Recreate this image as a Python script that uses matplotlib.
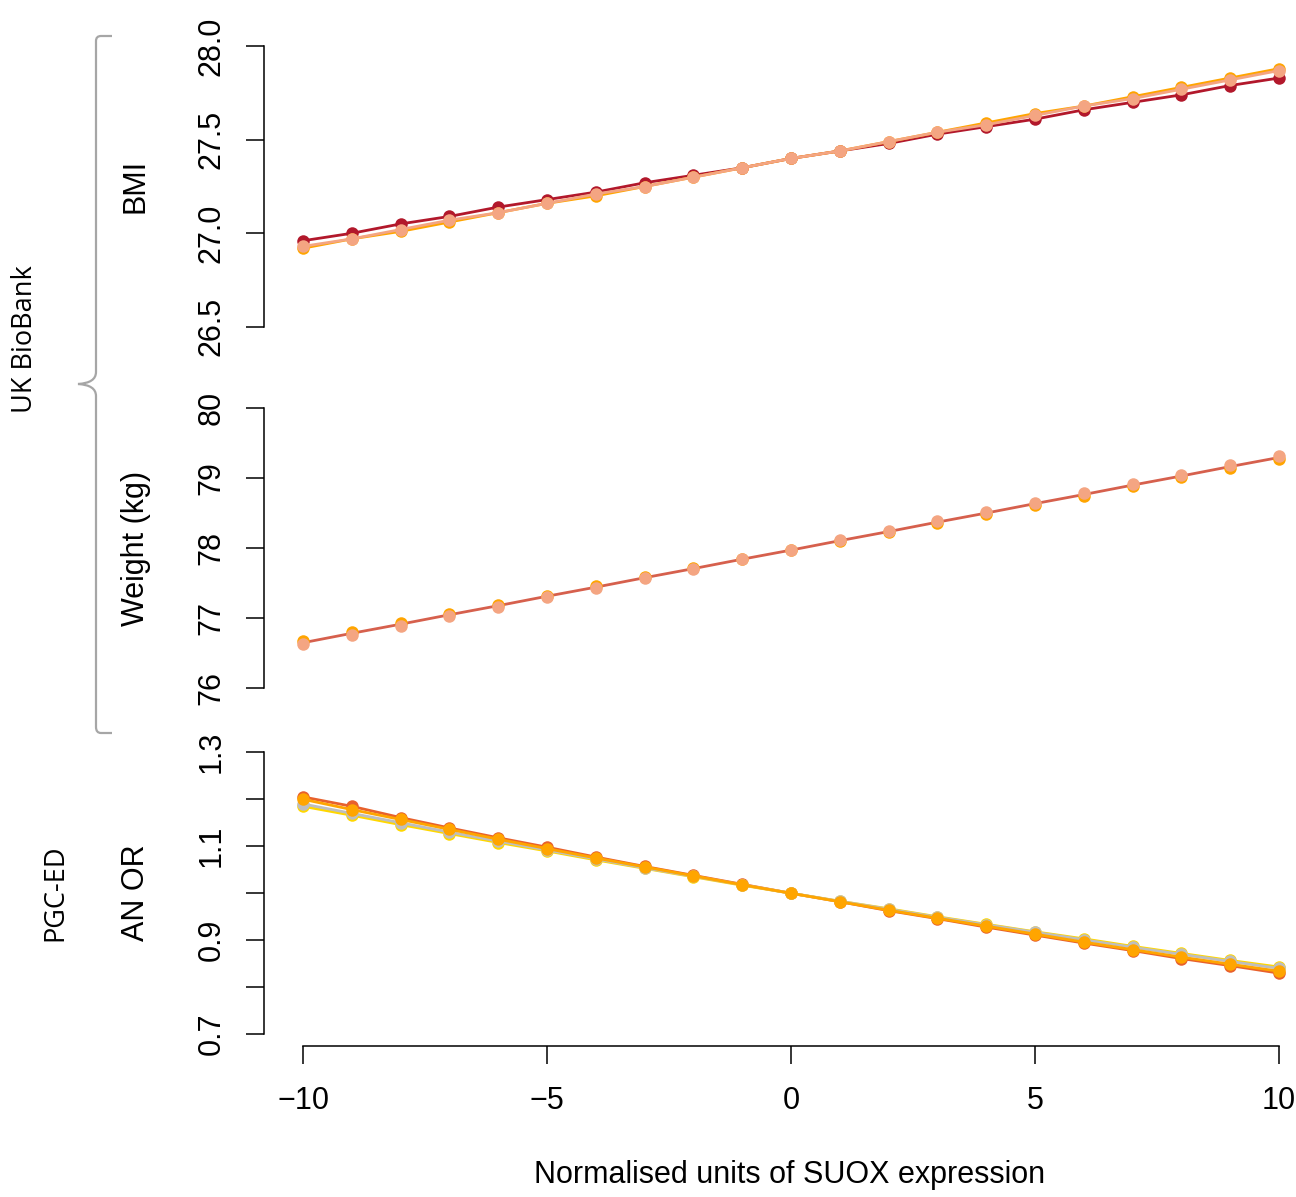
import matplotlib
matplotlib.use('Agg')
import matplotlib.pyplot as plt
from matplotlib.path import Path
from matplotlib.patches import PathPatch

plt.rcParams['font.family'] = ['Liberation Sans', 'DejaVu Sans']

# ---------------- data ----------------
x_units = [-10, -9, -8, -7, -6, -5, -4, -3, -2, -1, 0, 1, 2, 3, 4, 5, 6, 7, 8, 9, 10]

bmi_darkred = [26.96, 27.00, 27.05, 27.09, 27.14, 27.18, 27.22, 27.27, 27.31, 27.35, 27.40,
               27.44, 27.48, 27.53, 27.57, 27.61, 27.66, 27.70, 27.74, 27.79, 27.83]
bmi_orange = [26.92, 26.97, 27.01, 27.06, 27.11, 27.16, 27.20, 27.25, 27.30, 27.35, 27.40,
              27.44, 27.49, 27.54, 27.59, 27.64, 27.68, 27.73, 27.78, 27.83, 27.88]
bmi_salmon = [26.93, 26.97, 27.02, 27.07, 27.11, 27.16, 27.21, 27.25, 27.30, 27.35, 27.40,
              27.44, 27.49, 27.54, 27.58, 27.63, 27.68, 27.72, 27.77, 27.82, 27.87]

wt_orange = [76.67, 76.80, 76.93, 77.06, 77.19, 77.32, 77.45, 77.58, 77.71, 77.84, 77.97,
             78.10, 78.23, 78.36, 78.49, 78.62, 78.75, 78.88, 79.01, 79.14, 79.27]
wt_salmon = [76.62, 76.76, 76.89, 77.03, 77.16, 77.30, 77.43, 77.57, 77.70, 77.84, 77.97,
             78.11, 78.24, 78.38, 78.51, 78.65, 78.78, 78.92, 79.05, 79.19, 79.32]
wt_tomato = [76.645, 76.78, 76.91, 77.045, 77.175, 77.31, 77.44, 77.575, 77.705, 77.84, 77.97,
             78.105, 78.235, 78.37, 78.50, 78.635, 78.765, 78.90, 79.03, 79.165, 79.295]

or_redorange = [1.205, 1.185, 1.161, 1.139, 1.118, 1.098, 1.077, 1.057, 1.038, 1.019, 1.000,
                0.982, 0.963, 0.946, 0.928, 0.911, 0.894, 0.878, 0.861, 0.846, 0.830]
or_orange = [1.200, 1.178, 1.157, 1.136, 1.115, 1.095, 1.075, 1.056, 1.037, 1.018, 1.000,
             0.982, 0.964, 0.947, 0.930, 0.913, 0.896, 0.880, 0.864, 0.849, 0.834]
or_grey = [1.190, 1.170, 1.150, 1.130, 1.111, 1.092, 1.073, 1.054, 1.036, 1.018, 1.000,
           0.983, 0.966, 0.949, 0.933, 0.917, 0.901, 0.885, 0.870, 0.855, 0.840]
or_yellow = [1.185, 1.166, 1.146, 1.127, 1.108, 1.090, 1.071, 1.053, 1.035, 1.017, 1.000,
             0.983, 0.967, 0.950, 0.934, 0.918, 0.903, 0.887, 0.872, 0.857, 0.843]

bmi_ticks = [26.5, 27.0, 27.5, 28.0]
bmi_ticklabels = ['26.5', '27.0', '27.5', '28.0']
wt_ticks = [76, 77, 78, 79, 80]
wt_ticklabels = ['76', '77', '78', '79', '80']
or_ticks = [0.7, 0.8, 0.9, 1.0, 1.1, 1.2, 1.3]
or_ticklabels = ['0.7', '', '0.9', '', '1.1', '', '1.3']
x_ticks = [-10, -5, 0, 5, 10]

# ---------------- layout ----------------
W, H = 1296, 1197
fig = plt.figure(figsize=(W / 100, H / 100), dpi=100)

LEFT = 264
PX_PER_UNIT = 48.8
XMIN = -10.8
XMAX = XMIN + (W - LEFT) / PX_PER_UNIT

FS = 22
TICKLEN = 13.0
LW_AX = 1.1


def make_ax(top_px, bottom_px, ylim, ticks, labels):
    ax = fig.add_axes([LEFT / W, 1 - bottom_px / H, (W - LEFT) / W, (bottom_px - top_px) / H])
    ax.set_xlim(XMIN, XMAX)
    ax.set_ylim(*ylim)
    for s in ['top', 'right']:
        ax.spines[s].set_visible(False)
    ax.spines['left'].set_bounds(ticks[0], ticks[-1])
    ax.spines['left'].set_linewidth(LW_AX)
    ax.set_yticks(ticks)
    ax.set_yticklabels(labels)
    ax.tick_params(axis='y', length=TICKLEN, width=LW_AX, labelsize=FS, labelrotation=90, pad=14)
    for t in ax.get_yticklabels():
        t.set_va('center')
    ax.patch.set_visible(False)
    return ax


ax1 = make_ax(35, 338, (26.44, 28.06), bmi_ticks, bmi_ticklabels)
ax2 = make_ax(397, 699, (75.84, 80.16), wt_ticks, wt_ticklabels)
ax3 = make_ax(741, 1045.5, (0.676, 1.324), or_ticks, or_ticklabels)

for ax in (ax1, ax2):
    ax.spines['bottom'].set_visible(False)
    ax.set_xticks([])

ax3.spines['bottom'].set_bounds(-10, 10)
ax3.spines['bottom'].set_linewidth(LW_AX)
ax3.set_xticks(x_ticks)
ax3.tick_params(axis='x', length=TICKLEN, width=LW_AX, labelsize=FS, pad=16)

MS = 9.0
LW = 2.0
kw = dict(marker='o', markersize=MS, linewidth=LW, markeredgewidth=0)

# BMI
ax1.plot(x_units, bmi_darkred, color='#B2182B', **kw)
ax1.plot(x_units, bmi_orange, color='#FFA500', **kw)
ax1.plot(x_units, bmi_salmon, color='#F4A582', **kw)

# Weight
ax2.plot(x_units, wt_tomato, color='#D6604D', linewidth=LW, zorder=1)
ax2.plot(x_units, wt_orange, color='#FFA500', marker='o', markersize=MS, linestyle='none',
         markeredgewidth=0, zorder=2)
ax2.plot(x_units, wt_salmon, color='#F4A582', marker='o', markersize=MS, linestyle='none',
         markeredgewidth=0, zorder=3)

# AN OR
ax3.plot(x_units, or_redorange, color='#E8612C', **kw)
ax3.plot(x_units, or_yellow, color='#FFD700', **kw)
ax3.plot(x_units, or_grey, color='#BEBEBE', **kw)
ax3.plot(x_units, or_orange, color='#FFA500', **kw)

# y labels
def fy(y):
    return 1 - y / H

fig.text(136 / W, fy(186), 'BMI', rotation=90, ha='center', va='center', fontsize=FS)
fig.text(136 / W, fy(548), 'Weight (kg)', rotation=90, ha='center', va='center', fontsize=FS)
fig.text(136 / W, fy(893), 'AN OR', rotation=90, ha='center', va='center', fontsize=FS)

fig.text(790 / W, fy(1175), 'Normalised units of SUOX expression', ha='center', va='center',
         fontsize=FS)

# group labels
fig.text(25 / W, fy(339), 'UK BioBank', rotation=90, ha='center', va='center', fontsize=19.5,
         family=['Open Sans', 'DejaVu Sans'])
fig.text(55 / W, fy(893), 'PGC-ED', rotation=90, ha='center', va='center', fontsize=19.5,
         family=['Open Sans', 'DejaVu Sans'])

# brace
pts = [(112, 36), (101, 36), (96, 36), (96, 41), (96, 372), (96, 383), (78, 384),
       (96, 385), (96, 396), (96, 727), (96, 733), (101, 733), (112, 733)]
codes = [Path.MOVETO, Path.LINETO, Path.CURVE3, Path.CURVE3, Path.LINETO, Path.CURVE3, Path.CURVE3,
         Path.CURVE3, Path.CURVE3, Path.LINETO, Path.CURVE3, Path.CURVE3, Path.LINETO]
verts = [(px / W, fy(py)) for px, py in pts]
brace = PathPatch(Path(verts, codes), facecolor='none', edgecolor='#A6A6A6', linewidth=1.6,
                  transform=fig.transFigure)
fig.patches.append(brace)

fig.savefig('out.png', dpi=100)
